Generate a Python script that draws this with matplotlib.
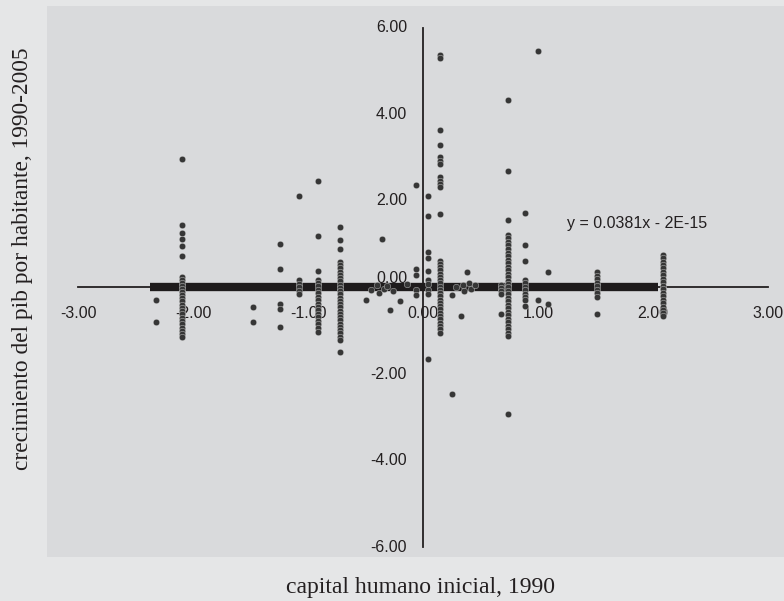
import matplotlib
matplotlib.use("Agg")
import matplotlib.pyplot as plt

# capital humano inicial (x) vs crecimiento del pib por habitante (y)
# points grouped by their (shared) x value
group_x = [-2.32, -2.10, -1.48, -1.24, -1.08, -0.91, -0.72,
           -0.06, 0.04, 0.15, 0.68, 0.74, 0.89, 1.00, 1.09, 1.51, 2.09]
group_y = [
    [-0.30, -0.79],
    [2.96, 1.45, 1.25, 1.13, 0.95, 0.72, 0.24, 0.17, 0.10, 0.03, -0.04, -0.11,
     -0.18, -0.25, -0.32, -0.40, -0.47, -0.55, -0.62, -0.70, -0.78, -0.85,
     -0.93, -1.00, -1.08, -1.15],
    [-0.46, -0.79],
    [1.00, 0.42, -0.39, -0.50, -0.92],
    [2.12, 0.17, 0.09, 0.01, -0.07, -0.15],
    [2.47, 1.18, 0.39, 0.18, 0.11, 0.03, -0.05, -0.13, -0.21, -0.29, -0.37,
     -0.45, -0.53, -0.61, -0.69, -0.77, -0.85, -0.94, -1.02],
    [1.39, 1.09, 0.90, 0.58, 0.51, 0.44, 0.36, 0.29, 0.21, 0.14, 0.06, -0.01,
     -0.09, -0.16, -0.24, -0.31, -0.39, -0.46, -0.54, -0.61, -0.69, -0.76,
     -0.84, -0.91, -0.99, -1.06, -1.14, -1.22, -1.48],
    [2.36, 0.42, 0.28, -0.05, -0.18],
    [2.12, 1.64, 0.81, 0.69, 0.39, 0.18, 0.08, -0.05, -0.15, -1.66],
    [5.38, 5.31, 3.63, 3.28, 3.02, 2.93, 2.86, 2.56, 2.47, 2.40, 2.33, 1.69,
     0.62, 0.55, 0.47, 0.40, 0.32, 0.25, 0.17, 0.10, 0.02, -0.05, -0.13,
     -0.20, -0.28, -0.35, -0.43, -0.50, -0.58, -0.66, -0.73, -0.81, -0.89,
     -0.96, -1.04],
    [0.05, -0.02, -0.08, -0.14, -0.62],
    [4.34, 2.70, 1.57, 1.22, 1.14, 1.06, 0.98, 0.90, 0.80, 0.72, 0.64, 0.56,
     0.48, 0.40, 0.32, 0.24, 0.16, 0.08, 0.00, -0.08, -0.16, -0.24, -0.32,
     -0.40, -0.48, -0.56, -0.64, -0.72, -0.80, -0.88, -0.96, -1.04, -1.11,
     -2.93],
    [1.73, 0.97, 0.62, 0.18, 0.10, 0.02, -0.06, -0.14, -0.22, -0.30, -0.42],
    [5.47, -0.30],
    [0.35, -0.37],
    [0.35, 0.27, 0.19, 0.11, 0.03, -0.05, -0.13, -0.23, -0.62],
    [0.76, 0.68, 0.60, 0.52, 0.44, 0.36, 0.28, 0.20, 0.12, 0.04, -0.04,
     -0.12, -0.20, -0.28, -0.36, -0.44, -0.52, -0.60, -0.65],
]

# loose points around the origin
loose_x = [-0.50, -0.45, -0.40, -0.38, -0.36, -0.34, -0.31, -0.29, -0.26,
           -0.20, -0.14, 0.25, 0.25, 0.29, 0.33, 0.35, 0.36, 0.38, 0.40,
           0.42, 0.45]
loose_y = [-0.28, -0.05, 0.05, -0.12, 1.13, -0.04, 0.03, -0.51, -0.08,
           -0.32, 0.07, -0.18, -2.47, 0.00, -0.65, 0.06, -0.08, 0.35, 0.10,
           -0.03, 0.05]

# fitted line as printed on the chart: y = 0.0381x - 2E-15
# (on the printed chart it reads as flat over the data range)
trend_x = [-2.37, 2.04]
trend_y = [0.0, 0.0]
trend_label = "y = 0.0381x - 2E-15"

x_ticks = [-3, -2, -1, 0, 1, 2, 3]
y_ticks = [-6, -4, -2, 0, 2, 4, 6]

ink = "#231f20"
font_sans = ["Liberation Sans", "DejaVu Sans"]
font_serif = ["Liberation Serif", "DejaVu Serif"]

xs, ys = [], []
for gx, gy in zip(group_x, group_y):
    xs += [gx] * len(gy)
    ys += gy
xs += loose_x
ys += loose_y

W, H = 784, 601
fig = plt.figure(figsize=(W / 100, H / 100), dpi=100, facecolor="#e5e6e7")

# inner grey panel
px0, px1, py0, py1 = 47, 784, 6, 557
ax = fig.add_axes([px0 / W, (H - py1) / H, (px1 - px0) / W, (py1 - py0) / H])
ax.set_facecolor("#d9dadc")
ax.set_xlim(-3.27, 3.139)
ax.set_ylim(-6.224, 6.501)
for s in ax.spines.values():
    s.set_visible(False)
ax.set_xticks([])
ax.set_yticks([])

# axes crossing at the origin
ax.plot([x_ticks[0], x_ticks[-1]], [0, 0], color=ink, lw=1.3, zorder=2)
ax.plot([0, 0], [y_ticks[0], y_ticks[-1]], color=ink, lw=1.3, zorder=2)

# trend line (thick)
ax.plot(trend_x, trend_y, color="#1e1b1c", lw=6,
        solid_capstyle="butt", zorder=3)

ax.scatter(xs, ys, s=22, color="#363636", edgecolors="#f2f2f2",
           linewidths=0.25, zorder=4)

for v in x_ticks:
    ax.annotate("%.2f" % v, (v, 0), xytext=(0, -18.5), textcoords="offset points",
                ha="center", va="center", fontsize=11.5, color=ink,
                family=font_sans)
for v in y_ticks:
    dy = 6.5 if v == 0 else 0
    ax.annotate("%.2f" % v, (0, v), xytext=(-11.5, dy), textcoords="offset points",
                ha="right", va="center", fontsize=11.5, color=ink,
                family=font_sans)

ax.text(1.25, 1.48, trend_label, ha="left", va="center",
        fontsize=11.5, color=ink, family=font_sans)

fig.text(420 / W, 1 - 587 / H, "capital humano inicial, 1990", ha="center",
         va="center", fontsize=17, color=ink, family=font_serif)
fig.text(23 / W, 1 - 259 / H, "crecimiento del pib por habitante, 1990-2005",
         ha="center", va="center", rotation=90, fontsize=16.8, color=ink,
         family=font_serif)

fig.savefig("out.png", dpi=100, facecolor=fig.get_facecolor())
